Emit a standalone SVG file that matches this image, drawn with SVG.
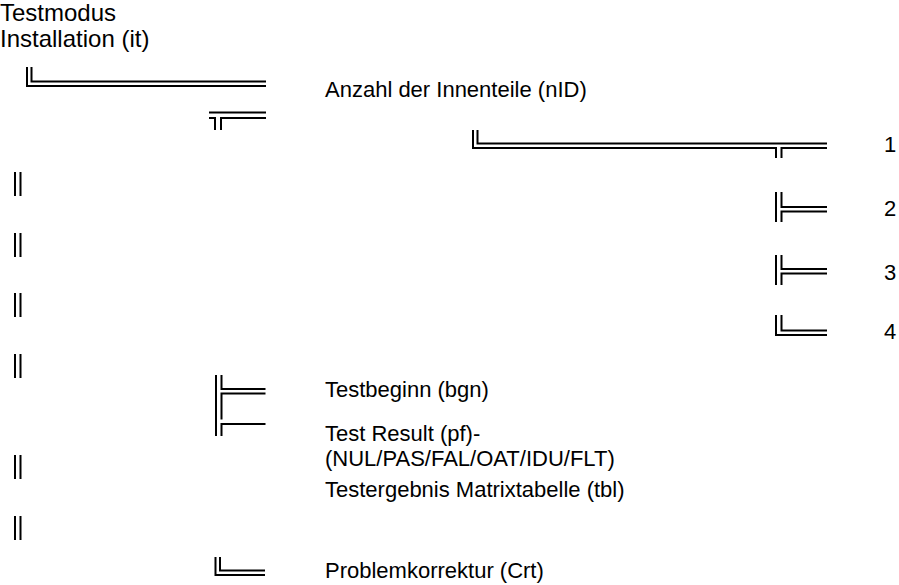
<svg xmlns="http://www.w3.org/2000/svg" width="899" height="585" viewBox="0 0 899 585">
<style>
text{font-family:"Liberation Sans",Arial,sans-serif;font-size:22px;fill:#000}
.big{font-size:24px}
.ln{fill:none;stroke:#000;stroke-width:2}
</style>
<rect width="899" height="585" fill="#fff"/>
<g id="connectors" class="ln">
<path d="M27,67V86H266M31.5,67V81.5H266"/>
<path d="M209,112.5H266M209,118H215V130M266,118H221V130"/>
<path d="M473,130V148H776V158M477.5,130V143.5H827M827,148H781.5V158"/>
<path d="M776,192V222M781.5,192V207H827M781.5,222V211.5H827"/>
<path d="M776,255V285M781.5,255V269H827M781.5,285V273.5H827"/>
<path d="M776,315V335H827M781.5,315V330.5H827"/>
<path d="M216,375V436M221.5,375V389H265.5M221.5,419.5V393.5H265.5M221.5,436V424H265.5"/>
<path d="M215.5,557V575H265M220,557V570.5H265"/>
<path d="M15,172V196M20.5,172V196M15,233V257M20.5,233V257M15,293V317M20.5,293V317M15,354V378M20.5,354V378M15,455V479M20.5,455V479M15,516V540M20.5,516V540"/>
</g>
<g id="node-it"><text class="big" x="0" y="21">Testmodus</text><text class="big" x="0" y="47">Installation (it)</text></g>
<g id="node-nid"><text x="325" y="97">Anzahl der Innenteile (nID)</text></g>
<g id="node-1"><text x="884" y="152">1</text></g>
<g id="node-2"><text x="884" y="216">2</text></g>
<g id="node-3"><text x="884" y="280">3</text></g>
<g id="node-4"><text x="884" y="339">4</text></g>
<g id="node-bgn"><text x="325" y="397">Testbeginn (bgn)</text></g>
<g id="node-pf"><text x="325" y="441">Test Result (pf)-</text><text x="325" y="466">(NUL/PAS/FAL/OAT/IDU/FLT)</text></g>
<g id="node-tbl"><text x="325" y="497">Testergebnis Matrixtabelle (tbl)</text></g>
<g id="node-crt"><text x="325" y="578">Problemkorrektur (Crt)</text></g>
</svg>
